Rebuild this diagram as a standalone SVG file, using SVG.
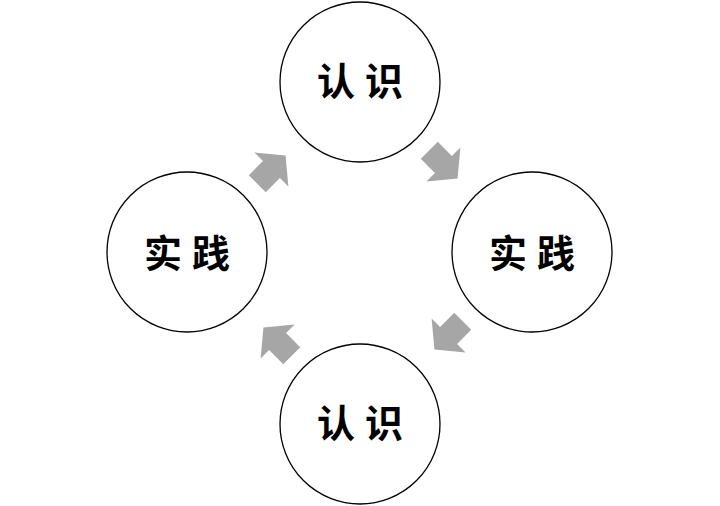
<svg xmlns="http://www.w3.org/2000/svg" width="720" height="506" viewBox="0 0 720 506">
<style>
circle{fill:#fff;stroke:#000;stroke-width:1.3}
text{font-family:"Noto Sans CJK SC","Noto Sans CJK JP",sans-serif;font-weight:bold;font-size:38px;text-anchor:middle;dominant-baseline:central;letter-spacing:10px}
.a{fill:#a6a6a6}
</style>
<defs><path id="ar" d="M-18,-12 L2,-12 L2,-24 L22,0 L2,24 L2,12 L-18,12 Z"/></defs>
<g id="connectors">
<use href="#ar" class="a" transform="translate(270,171) rotate(-45)"/>
<use href="#ar" class="a" transform="translate(442,163) rotate(45)"/>
<use href="#ar" class="a" transform="translate(450,334) rotate(135)"/>
<use href="#ar" class="a" transform="translate(279,343) rotate(-135)"/>
</g>
<g id="n1"><circle cx="360" cy="82" r="80"/><text x="365" y="78">认识</text></g>
<g id="n2"><circle cx="532" cy="252" r="80"/><text x="537" y="250">实践</text></g>
<g id="n3"><circle cx="360" cy="424" r="80"/><text x="365" y="420">认识</text></g>
<g id="n4"><circle cx="187" cy="252" r="80"/><text x="192" y="250">实践</text></g>
</svg>
